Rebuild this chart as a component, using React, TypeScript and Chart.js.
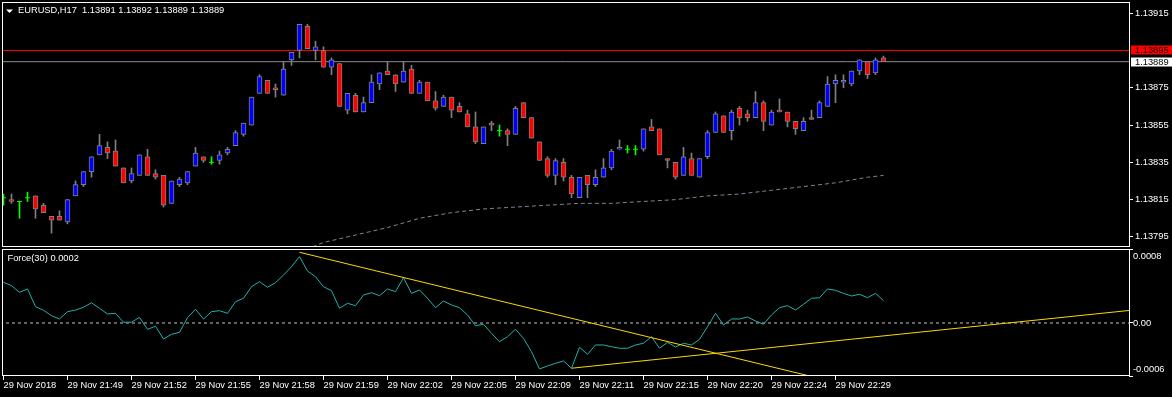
import React, { useEffect, useRef } from "react";
import { Chart, registerables } from "chart.js";
Chart.register(...registerables);

const symbolTitle = "EURUSD,H17  1.13891 1.13892 1.13889 1.13889";
const indicatorTitle = "Force(30) 0.0002";

const opens = [
  1.13816, 1.13815, 1.13814, 1.13816, 1.13817, 1.13812, 1.13806, 1.13806, 1.13803, 1.13817,
  1.13823, 1.1383, 1.13839, 1.13843, 1.13841, 1.13832, 1.13825, 1.13828, 1.13838, 1.13829,
  1.13828, 1.13813, 1.13823, 1.13824, 1.13833, 1.13838, 1.13835, 1.13836, 1.1384, 1.13844,
  1.1385, 1.13855, 1.13872, 1.13879, 1.13875, 1.13871, 1.1389, 1.13895, 1.13908, 1.13895,
  1.13895, 1.13886, 1.13888, 1.13863, 1.13871, 1.13862, 1.13867, 1.13877, 1.13884, 1.13882,
  1.13878, 1.13885, 1.13872, 1.13878, 1.13868, 1.13865, 1.1387, 1.13865, 1.13861, 1.13854,
  1.13845, 1.13856, 1.13852, 1.13852, 1.1385, 1.13867, 1.13859, 1.13846, 1.13837, 1.13828,
  1.13835, 1.13827, 1.13816, 1.13828, 1.13823, 1.13827, 1.13832, 1.13842, 1.13842, 1.13842,
  1.13842, 1.13854, 1.13853, 1.13837, 1.13835, 1.13828, 1.13837, 1.13827, 1.13838, 1.13851,
  1.1386, 1.13852, 1.13864, 1.13861, 1.13859, 1.13867, 1.13855, 1.13863, 1.13862, 1.13857,
  1.13852, 1.13859, 1.13859, 1.13865, 1.13877, 1.13878, 1.13877, 1.13884, 1.13889, 1.13883,
  1.13891,
];
const highs = [
  1.13818, 1.13818, 1.13814, 1.13819, 1.13817, 1.13813, 1.13806, 1.13809, 1.13815, 1.13825,
  1.1383, 1.13838, 1.1385, 1.13846, 1.13847, 1.13832, 1.13832, 1.13839, 1.13842, 1.13831,
  1.13828, 1.13825, 1.13827, 1.1383, 1.13843, 1.13838, 1.13838, 1.13841, 1.13843, 1.13852,
  1.13856, 1.1387, 1.13882, 1.13879, 1.13877, 1.13889, 1.13894, 1.13909, 1.13909, 1.139,
  1.13897, 1.13891, 1.13888, 1.13872, 1.13872, 1.1387, 1.13882, 1.13883, 1.13889, 1.13882,
  1.13889, 1.13887, 1.13879, 1.13878, 1.13873, 1.13871, 1.1387, 1.13867, 1.13863, 1.13862,
  1.13854, 1.13857, 1.13855, 1.13853, 1.13865, 1.13867, 1.13859, 1.13846, 1.13838, 1.13837,
  1.13837, 1.13828, 1.13827, 1.13828, 1.13831, 1.13837, 1.13842, 1.13847, 1.13844, 1.13844,
  1.13853, 1.13858, 1.13853, 1.13837, 1.13835, 1.13843, 1.1384, 1.13837, 1.13852, 1.13862,
  1.1386, 1.13863, 1.13865, 1.13863, 1.13873, 1.13868, 1.13863, 1.13869, 1.13862, 1.13857,
  1.13859, 1.13863, 1.13868, 1.13881, 1.13882, 1.13882, 1.13884, 1.1389, 1.13889, 1.13891,
  1.13892,
];
const lows = [
  1.13812, 1.13813, 1.13805, 1.13814, 1.13805, 1.13808, 1.13797, 1.13804, 1.13802, 1.13817,
  1.13822, 1.13827, 1.13839, 1.13837, 1.13833, 1.13824, 1.13824, 1.13828, 1.13828, 1.13826,
  1.13811, 1.13813, 1.13822, 1.13823, 1.13833, 1.13835, 1.13834, 1.13834, 1.13839, 1.13844,
  1.13849, 1.13855, 1.13872, 1.13872, 1.1387, 1.13871, 1.13887, 1.13891, 1.13896, 1.1389,
  1.13886, 1.13882, 1.13865, 1.13861, 1.13862, 1.13862, 1.13867, 1.13874, 1.13882, 1.13873,
  1.13878, 1.13872, 1.13872, 1.13868, 1.13863, 1.13865, 1.13859, 1.13862, 1.13854, 1.13845,
  1.13845, 1.13852, 1.13849, 1.13844, 1.1385, 1.13859, 1.13848, 1.13836, 1.13827, 1.13823,
  1.13825, 1.13816, 1.13816, 1.13816, 1.13822, 1.13827, 1.13831, 1.13842, 1.1384, 1.13839,
  1.13841, 1.13852, 1.13839, 1.13832, 1.13826, 1.13828, 1.13828, 1.13827, 1.13837, 1.13851,
  1.13851, 1.13847, 1.13855, 1.13857, 1.13859, 1.13852, 1.13855, 1.13862, 1.13854, 1.1385,
  1.13852, 1.13858, 1.13859, 1.13865, 1.13867, 1.13875, 1.13876, 1.13882, 1.1388, 1.13882,
  1.13889,
];
const closes = [
  1.13816, 1.13814, 1.13814, 1.13816, 1.1381, 1.13808, 1.13804, 1.13804, 1.13815, 1.13823,
  1.1383, 1.13838, 1.13844, 1.1384, 1.13833, 1.13824, 1.13829, 1.13839, 1.13828, 1.13827,
  1.13812, 1.13825, 1.13826, 1.1383, 1.1384, 1.13836, 1.13835, 1.13839, 1.13842, 1.13851,
  1.13856, 1.1387, 1.13881, 1.13872, 1.13874, 1.13885, 1.13894, 1.13909, 1.13896, 1.13897,
  1.13886, 1.1389, 1.13865, 1.13872, 1.13862, 1.13867, 1.13878, 1.13883, 1.13882, 1.13877,
  1.13884, 1.13872, 1.13878, 1.13868, 1.13864, 1.1387, 1.13863, 1.13862, 1.13854, 1.13846,
  1.13854, 1.13855, 1.13852, 1.1385, 1.13864, 1.13859, 1.13848, 1.13836, 1.13828, 1.13836,
  1.13827, 1.13818, 1.13827, 1.13823, 1.13827, 1.13832, 1.13841, 1.13843, 1.13842, 1.13842,
  1.13853, 1.13852, 1.13839, 1.13836, 1.13827, 1.13838, 1.13828, 1.13837, 1.13851, 1.13861,
  1.13851, 1.13862, 1.13859, 1.13859, 1.13867, 1.13857, 1.13862, 1.13862, 1.13857, 1.13853,
  1.13857, 1.13858, 1.13867, 1.13877, 1.13879, 1.13879, 1.13884, 1.1389, 1.13882, 1.1389,
  1.13889,
];

const maIndex = [37, 40, 44, 48, 52, 56, 60, 64, 68, 72, 76, 80, 84, 88, 92, 96, 100, 104, 108, 110];
const maValues = [
  1.13787, 1.13792, 1.13796, 1.138, 1.13805, 1.13808, 1.1381, 1.13811, 1.13812, 1.13813,
  1.13813, 1.13814, 1.13815, 1.13817, 1.13818, 1.1382, 1.13822, 1.13824, 1.13827, 1.13828,
];

const redLevel = 1.13895;
const bidLevel = 1.13889;
const priceTicks = [1.13915, 1.13875, 1.13855, 1.13835, 1.13815, 1.13795];

const forceValues = [
  0.000446, 0.000409, 0.000336, 0.000373, 0.000179, 0.000139, 0.00008, 0.000044, 0.000124, 0.000142,
  0.000172, 0.000222, 0.000161, 0.000099, 0.000106, 0.000008, 0.000008, 0.000062, -0.000069, -0.000036,
  -0.000175, -0.000124, -0.000102, 0.000058, 0.00015, 0.000044, 0.000124, 0.000135, 0.000106, 0.000233,
  0.000271, 0.000398, 0.000453, 0.000391, 0.000442, 0.000526, 0.000617, 0.000727, 0.00057, 0.000507,
  0.000398, 0.000354, 0.000161, 0.000216, 0.00019, 0.000307, 0.000332, 0.000299, 0.000373, 0.000343,
  0.000496, 0.000325, 0.000362, 0.000271, 0.000168, 0.000241, 0.000197, 0.000168, 0.000088, -0.00003,
  -0.000014, -0.000113, -0.000205, -0.00015, -0.000069, -0.000168, -0.000315, -0.000504, -0.000471, -0.000442,
  -0.000416, -0.000496, -0.000266, -0.000343, -0.000241, -0.000241, -0.00026, -0.000277, -0.000277, -0.000241,
  -0.000222, -0.00015, -0.000277, -0.000212, -0.000263, -0.000222, -0.000241, -0.000179, -0.000041, 0.000106,
  -0.000022, 0.000044, 0.000044, 0.000066, 0.000022, -0.000014, 0.000088, 0.000168, 0.00019, 0.000142,
  0.000205, 0.000271, 0.000277, 0.000373, 0.000358, 0.000325, 0.000296, 0.000315, 0.000277, 0.000325,
  0.000245,
];
const forceAxisLabels = ["0.0008", "0.00", "-0.0006"];

const trendAIndex = [37, 120];
const trendAValues = [0.000775, -0.00099];
const trendBIndex = [71, 141];
const trendBValues = [-0.000496, 0.00014];

const timeTickIndex = [0, 8, 16, 24, 32, 40, 48, 56, 64, 72, 80, 88, 96, 104];
const timeLabels = [
  "29 Nov 2018", "29 Nov 21:49", "29 Nov 21:52", "29 Nov 21:55", "29 Nov 21:58",
  "29 Nov 21:59", "29 Nov 22:02", "29 Nov 22:05", "29 Nov 22:09", "29 Nov 22:11",
  "29 Nov 22:15", "29 Nov 22:20", "29 Nov 22:24", "29 Nov 22:29",
];

// view ranges (layout)
const X_MIN = -0.1875;
const X_MAX = X_MIN + 1127 / 8;
const PRICE_MAX = 1.1392101;
const PRICE_MIN = 1.1378958;
const FORCE_MAX = 0.000811;
const FORCE_MIN = -0.000581;

const FONT_FAMILY = "'Liberation Sans', Arial, sans-serif";
const FONT_SIZE = 9.3;

export default function App() {
  const topRef = useRef<HTMLCanvasElement>(null);
  const botRef = useRef<HTMLCanvasElement>(null);

  useEffect(() => {
    const font = { family: FONT_FAMILY, size: FONT_SIZE };
    const idx = opens.map((_, i) => i);
    const doji = idx.filter((i) => opens[i] === closes[i]);
    const nonDoji = idx.filter((i) => opens[i] !== closes[i]);

    const framePlugin = (extra: (chart: any) => void) => ({
      id: "frame",
      afterDraw(chart: any) {
        const { ctx, chartArea: a } = chart;
        ctx.save();
        ctx.strokeStyle = "#ffffff";
        ctx.lineWidth = 1;
        ctx.strokeRect(a.left + 0.5, a.top + 0.5, a.right - a.left, a.bottom - a.top - 1);
        extra(chart);
        ctx.restore();
      },
    });

    const c1 = new Chart(topRef.current!, {
      type: "bar",
      data: {
        datasets: [
          {
            type: "line",
            data: [{ x: X_MIN - 1, y: redLevel }, { x: X_MAX + 1, y: redLevel }],
            borderColor: "#ff0000",
            borderWidth: 1,
            pointRadius: 0,
            order: 10,
          } as any,
          {
            type: "line",
            data: [{ x: X_MIN - 1, y: bidLevel }, { x: X_MAX + 1, y: bidLevel }],
            borderColor: "#8c8c8c",
            borderWidth: 1,
            pointRadius: 0,
            order: 10,
          },
          {
            type: "line",
            data: maIndex.map((x, k) => ({ x, y: maValues[k] })),
            borderColor: "#778899",
            borderWidth: 1,
            borderDash: [4, 3],
            pointRadius: 0,
            order: 9,
          },
          {
            type: "bar",
            data: idx.map((i) => ({ x: i, y: [lows[i], highs[i]] })),
            backgroundColor: idx.map((i) => (opens[i] === closes[i] ? "#00ff00" : "#808080")),
            borderWidth: 0,
            barThickness: 1,
            grouped: false,
            order: 5,
          },
          {
            type: "bar",
            data: nonDoji.map((i) => ({ x: i, y: [opens[i], closes[i]] })),
            backgroundColor: nonDoji.map((i) => (closes[i] > opens[i] ? "#0000ff" : "#ff0000")),
            borderColor: "#808080",
            borderWidth: 1,
            borderSkipped: false,
            barThickness: 5,
            grouped: false,
            order: 4,
          },
          {
            type: "line",
            data: doji.map((i) => ({ x: i, y: opens[i] })),
            showLine: false,
            pointStyle: "line",
            pointRadius: 2.5,
            pointBorderColor: "#00ff00",
            pointBorderWidth: 1,
            order: 3,
          },
        ] as any,
      },
      options: {
        responsive: false,
        animation: false,
        devicePixelRatio: 1,
        events: [],
        layout: { autoPadding: false, padding: { left: 2, top: 2, right: 0, bottom: 0 } },
        plugins: { legend: { display: false }, tooltip: { enabled: false } },
        scales: {
          x: {
            type: "linear",
            display: false,
            min: X_MIN,
            max: X_MAX,
            offset: false,
          },
          y: {
            type: "linear",
            position: "right",
            min: PRICE_MIN,
            max: PRICE_MAX,
            afterBuildTicks: (s: any) => {
              s.ticks = priceTicks.map((v) => ({ value: v }));
            },
            afterFit: (s: any) => {
              s.width = 43;
              s.paddingTop = 0;
              s.paddingBottom = 0;
            },
            ticks: {
              color: "#ffffff",
              font,
              padding: 2,
              callback: (v: any) => Number(v).toFixed(5),
            },
            grid: { drawOnChartArea: false, drawTicks: true, tickLength: 4, color: "#ffffff" },
            border: { display: false },
          },
        },
      } as any,
      plugins: [
        framePlugin((chart: any) => {
          const { ctx } = chart;
          const ys = chart.scales.y;
          ctx.fillStyle = "#ffffff";
          ctx.beginPath();
          ctx.moveTo(6, 9.5);
          ctx.lineTo(13, 9.5);
          ctx.lineTo(9.5, 13);
          ctx.closePath();
          ctx.fill();
          ctx.font = `${FONT_SIZE}px ${FONT_FAMILY}`;
          ctx.textBaseline = "middle";
          ctx.textAlign = "left";
          ctx.fillText(symbolTitle, 18, 10.8);
          const boxes = [
            { v: redLevel, bg: "#ff0000" },
            { v: bidLevel, bg: "#ffffff" },
          ];
          boxes.forEach((b) => {
            const y = Math.round(ys.getPixelForValue(b.v));
            ctx.fillStyle = b.bg;
            ctx.fillRect(1131, y - 4.5, 41, 9);
            ctx.fillStyle = "#000000";
            ctx.fillText(b.v.toFixed(5), 1135, y);
          });
        }),
      ],
    });

    const c2 = new Chart(botRef.current!, {
      type: "line",
      data: {
        datasets: [
          {
            data: [{ x: X_MIN - 1, y: 0 }, { x: X_MAX + 1, y: 0 }],
            borderColor: "#c0c0c0",
            borderWidth: 1,
            borderDash: [3, 3],
            pointRadius: 0,
            order: 10,
          },
          {
            data: idx.map((i) => ({ x: i, y: forceValues[i] })),
            borderColor: "#20b2aa",
            borderWidth: 1,
            pointRadius: 0,
            order: 5,
          },
          {
            data: trendAIndex.map((x, k) => ({ x, y: trendAValues[k] })),
            borderColor: "#ffd700",
            borderWidth: 1,
            pointRadius: 0,
            order: 2,
          },
          {
            data: trendBIndex.map((x, k) => ({ x, y: trendBValues[k] })),
            borderColor: "#ffd700",
            borderWidth: 1,
            pointRadius: 0,
            order: 2,
          },
        ],
      },
      options: {
        responsive: false,
        animation: false,
        devicePixelRatio: 1,
        events: [],
        layout: { autoPadding: false, padding: { left: 2, top: 2, right: 0, bottom: 0 } },
        plugins: { legend: { display: false }, tooltip: { enabled: false } },
        scales: {
          x: {
            type: "linear",
            position: "bottom",
            min: X_MIN,
            max: X_MAX,
            offset: false,
            afterBuildTicks: (s: any) => {
              s.ticks = timeTickIndex.map((v) => ({ value: v }));
            },
            afterFit: (s: any) => {
              s.height = 21;
              s.paddingLeft = 0;
              s.paddingRight = 0;
            },
            ticks: {
              color: "#ffffff",
              font,
              padding: 0,
              align: "start",
              autoSkip: false,
              maxRotation: 0,
              minRotation: 0,
              callback: (_v: any, i: number) => timeLabels[i],
            },
            grid: { drawOnChartArea: false, drawTicks: true, tickLength: 4, color: "#ffffff" },
            border: { display: false },
          },
          y: {
            type: "linear",
            position: "right",
            min: FORCE_MIN,
            max: FORCE_MAX,
            afterBuildTicks: (s: any) => {
              s.ticks = [{ value: FORCE_MAX }, { value: 0 }, { value: FORCE_MIN }];
            },
            afterFit: (s: any) => {
              s.width = 43;
              s.paddingTop = 0;
              s.paddingBottom = 0;
            },
            ticks: { display: false },
            grid: { drawOnChartArea: false, drawTicks: true, tickLength: 4, color: "#ffffff" },
            border: { display: false },
          },
        },
      } as any,
      plugins: [
        framePlugin((chart: any) => {
          const { ctx, chartArea: a } = chart;
          const ys = chart.scales.y;
          ctx.fillStyle = "#ffffff";
          ctx.font = `${FONT_SIZE}px ${FONT_FAMILY}`;
          ctx.textBaseline = "middle";
          ctx.textAlign = "left";
          ctx.fillText(indicatorTitle, 7.5, 11.7);
          const ly = [a.top + 7.7, ys.getPixelForValue(0), a.bottom - 6.7];
          forceAxisLabels.forEach((t, k) => ctx.fillText(t, 1133, ly[k]));
        }),
      ],
    });

    return () => {
      c1.destroy();
      c2.destroy();
    };
  }, []);

  return (
    <div
      style={{
        position: "fixed",
        left: 0,
        top: 0,
        width: 1172,
        height: 397,
        background: "#000000",
        overflow: "hidden",
      }}
    >
      <canvas
        ref={topRef}
        width={1172}
        height={247}
        style={{ position: "absolute", left: 0, top: 0, width: 1172, height: 247 }}
      />
      <canvas
        ref={botRef}
        width={1172}
        height={150}
        style={{ position: "absolute", left: 0, top: 247, width: 1172, height: 150 }}
      />
    </div>
  );
}
